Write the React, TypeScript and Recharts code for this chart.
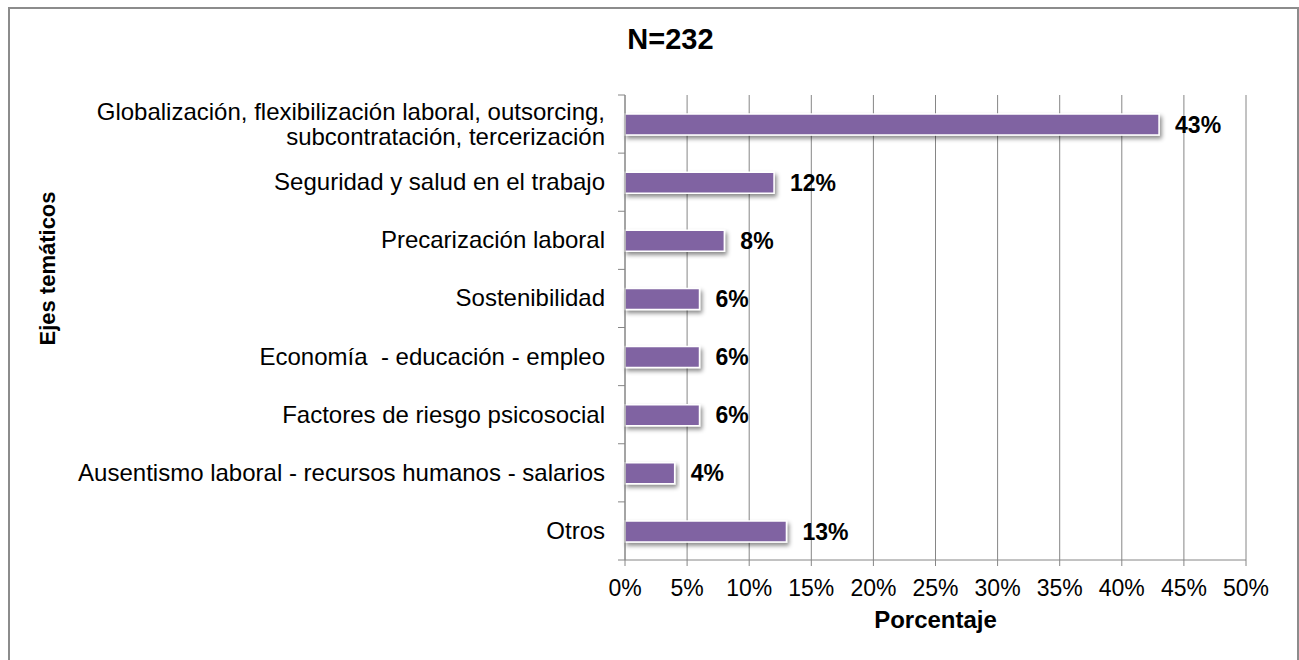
import React from 'react';
import {
  BarChart,
  Bar,
  XAxis,
  YAxis,
  CartesianGrid,
  LabelList,
  Label,
} from 'recharts';

const categories = [
  'Globalización, flexibilización laboral, outsorcing,\nsubcontratación, tercerización',
  'Seguridad y salud en el trabajo',
  'Precarización laboral',
  'Sostenibilidad',
  'Economía  - educación - empleo',
  'Factores de riesgo psicosocial',
  'Ausentismo laboral - recursos humanos - salarios',
  'Otros',
];
const percentages = [43, 12, 8, 6, 6, 6, 4, 13];
const xTicks = [0, 5, 10, 15, 20, 25, 30, 35, 40, 45, 50];

const title = 'N=232';
const xTitle = 'Porcentaje';
const yTitle = 'Ejes temáticos';

const FONT = '"Liberation Sans", Arial, sans-serif';
const NARROW = '"Liberation Sans Narrow", "Arial Narrow", "Liberation Sans", Arial, sans-serif';
const GREY = '#868686';
const TICK_SIZE = 7;
const TICK_MARGIN = 13;

function CategoryTick(props: any) {
  const { x, y, payload, index, visibleTicksCount } = props;
  const lines = String(payload.value).split('\n');
  const axisX = x + TICK_SIZE + TICK_MARGIN;
  const half = payload.offset ?? 29;
  const lineH = 25;
  const startDy = -((lines.length - 1) * lineH) / 2;
  return (
    <g>
      <line x1={axisX - TICK_SIZE} x2={axisX} y1={y - half} y2={y - half} stroke={GREY} />
      {index === visibleTicksCount - 1 && (
        <line x1={axisX - TICK_SIZE} x2={axisX} y1={y + half} y2={y + half} stroke={GREY} />
      )}
      <text
        x={x}
        y={y}
        textAnchor="end"
        fontSize={24}
        fontFamily={FONT}
        fill="#000"
        style={{ whiteSpace: 'pre' }}
      >
        {lines.map((l, i) => (
          <tspan key={i} x={x} dy={i === 0 ? startDy + 8 : lineH}>
            {l}
          </tspan>
        ))}
      </text>
    </g>
  );
}

export default function App() {
  const data = categories.map((name, i) => ({ name, value: percentages[i] }));
  return (
    <div
      style={{
        position: 'absolute',
        left: 8,
        top: 7,
        width: 1291,
        height: 700,
        border: '2px solid #8c8c8c',
        boxSizing: 'border-box',
        overflow: 'hidden',
        background: '#fff',
      }}
    >
      <div
        style={{
          position: 'absolute',
          left: 34,
          right: 0,
          top: 15,
          lineHeight: '30px',
          textAlign: 'center',
          fontFamily: FONT,
          fontWeight: 'bold',
          fontSize: 29,
        }}
      >
        {title}
      </div>
      <BarChart
        width={1287}
        height={689}
        data={data}
        layout="vertical"
        margin={{ top: 86, right: 51, left: 0, bottom: 66 }}
        barCategoryGap={0}
      >
        <defs>
          <filter id="barShadow" x="-5%" y="-50%" width="115%" height="220%">
            <feDropShadow dx="2" dy="3" stdDeviation="2" floodColor="#000" floodOpacity="0.45" />
          </filter>
        </defs>
        <CartesianGrid horizontal={false} stroke={GREY} />
        <XAxis
          type="number"
          domain={[0, 50]}
          ticks={xTicks}
          interval={0}
          tickFormatter={(v: number) => `${v}%`}
          stroke={GREY}
          tickSize={6}
          tickMargin={14}
          height={72}
          tick={{ fill: '#000', fontSize: 23, fontFamily: NARROW }}
        >
          <Label
            value={xTitle}
            position="insideBottom"
            offset={4}
            fill="#000"
            fontSize={24}
            fontWeight="bold"
            fontFamily={NARROW}
          />
        </XAxis>
        <YAxis
          type="category"
          dataKey="name"
          width={615}
          stroke={GREY}
          tickLine={false}
          tickSize={TICK_SIZE}
          tickMargin={TICK_MARGIN}
          interval={0}
          tick={<CategoryTick />}
        >
          <Label
            content={({ viewBox }: any) => {
              const cx = viewBox.x + 37;
              const cy = viewBox.y + viewBox.height / 2 - 59;
              return (
                <text
                  x={cx}
                  y={cy}
                  transform={`rotate(-90, ${cx}, ${cy})`}
                  textAnchor="middle"
                  dominantBaseline="central"
                  fontSize={22}
                  fontWeight="bold"
                  fontFamily={FONT}
                  fill="#000"
                >
                  {yTitle}
                </text>
              );
            }}
          />
        </YAxis>
        <Bar
          dataKey="value"
          fill="#8064A2"
          stroke="#ffffff"
          strokeWidth={1.5}
          barSize={21}
          filter="url(#barShadow)"
          isAnimationActive={false}
        >
          <LabelList
            dataKey="value"
            position="right"
            offset={16}
            formatter={(v: any) => `${v}%`}
            fill="#000"
            fontSize={23}
            fontWeight="bold"
            fontFamily={FONT}
          />
        </Bar>
      </BarChart>
    </div>
  );
}
